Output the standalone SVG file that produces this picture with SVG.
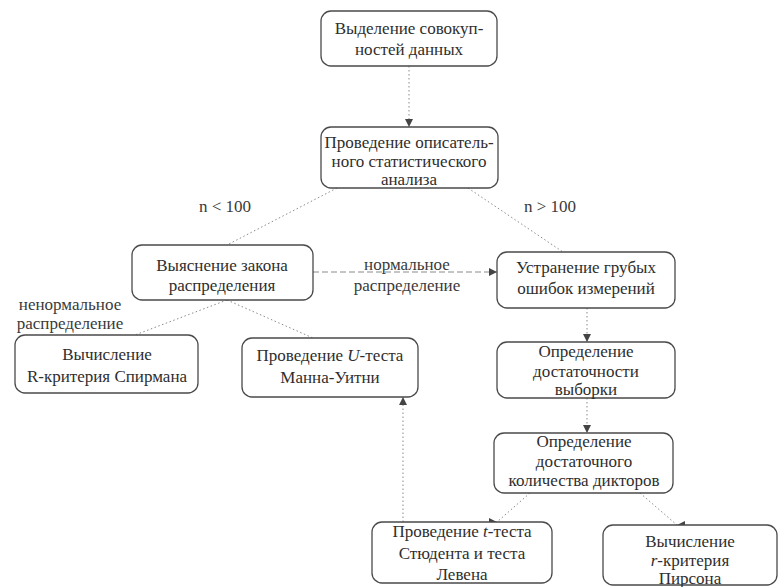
<svg xmlns="http://www.w3.org/2000/svg" width="782" height="587" viewBox="0 0 782 587" font-family="Liberation Serif, DejaVu Serif, Noto Serif, Tinos, Times New Roman, serif" font-size="17">
<style>
  .box { fill: #ffffff; stroke: #4a4a4a; stroke-width: 1.3; }
  .t { fill: #2e2e2e; text-anchor: middle; }
  .lbl { fill: #3a3a3a; text-anchor: middle; }
  .c { fill: none; stroke: #8a8a8a; stroke-width: 1; stroke-dasharray: 1.5 2.5; }
  .h { fill: none; stroke: #8a8a8a; stroke-width: 1; stroke-dasharray: 6 3; }
</style>
<defs>
  <marker id="aDown" markerUnits="userSpaceOnUse" markerWidth="8" markerHeight="8" refX="8" refY="4" orient="90"><path d="M0,0 L8,4 L0,8 z" fill="#444"/></marker>
  <marker id="aUp" markerUnits="userSpaceOnUse" markerWidth="8" markerHeight="8" refX="8" refY="4" orient="-90"><path d="M0,0 L8,4 L0,8 z" fill="#444"/></marker>
  <marker id="aRight" markerUnits="userSpaceOnUse" markerWidth="8" markerHeight="8" refX="8" refY="4" orient="0"><path d="M0,0 L8,4 L0,8 z" fill="#444"/></marker>
  <marker id="aLeft" markerUnits="userSpaceOnUse" markerWidth="8" markerHeight="8" refX="8" refY="4" orient="180"><path d="M0,0 L8,4 L0,8 z" fill="#444"/></marker>
</defs>
<rect width="782" height="587" fill="#ffffff"/>

<g id="connectors">
  <path class="c" d="M409,66 L409,127" marker-end="url(#aDown)"/>
  <path class="c" d="M337,188 L227,245" marker-end="url(#aUp)"/>
  <path class="c" d="M468,188 L563,252" marker-end="url(#aUp)"/>
  <path class="h" d="M313,272 L497,272" marker-end="url(#aRight)"/>
  <path class="c" d="M227,300 L135,335" marker-end="url(#aUp)"/>
  <path class="c" d="M227,300 L313,338" marker-end="url(#aUp)"/>
  <path class="c" d="M587,308 L587,342" marker-end="url(#aDown)"/>
  <path class="c" d="M587,398 L587,433" marker-end="url(#aDown)"/>
  <path class="c" d="M403,522 L403,397" marker-end="url(#aUp)"/>
  <path class="c" d="M530,493 L497,522" marker-end="url(#aRight)"/>
  <path class="c" d="M640,493 L677,525" marker-end="url(#aLeft)"/>
  <text class="lbl" x="225" y="212">n &lt; 100</text>
  <text class="lbl" x="550" y="212">n &gt; 100</text>
  <text class="lbl" x="407" y="270">нормальное</text>
  <text class="lbl" x="407" y="291">распределение</text>
  <text class="lbl" x="70" y="310">ненормальное</text>
  <text class="lbl" x="70" y="329">распределение</text>
</g>

<g id="n1">
  <rect class="box" x="321" y="11" width="176" height="55" rx="10"/>
  <text class="t" x="409" y="34">Выделение совокуп-</text>
  <text class="t" x="409" y="55">ностей данных</text>
</g>

<g id="n2">
  <rect class="box" x="321" y="127" width="177" height="61" rx="10"/>
  <text class="t" x="409" y="148">Проведение описатель-</text>
  <text class="t" x="409" y="167">ного статистического</text>
  <text class="t" x="409" y="185">анализа</text>
</g>

<g id="n3">
  <rect class="box" x="132" y="245" width="181" height="55" rx="10"/>
  <text class="t" x="222" y="271">Выяснение закона</text>
  <text class="t" x="222" y="291">распределения</text>
</g>

<g id="n4">
  <rect class="box" x="497" y="252" width="178" height="56" rx="10"/>
  <text class="t" x="586" y="273">Устранение грубых</text>
  <text class="t" x="586" y="294">ошибок измерений</text>
</g>

<g id="n5">
  <rect class="box" x="15" y="335" width="183" height="58" rx="10"/>
  <text class="t" x="107" y="360">Вычисление</text>
  <text class="t" x="107" y="382">R-критерия Спирмана</text>
</g>

<g id="n6">
  <rect class="box" x="242" y="338" width="176" height="59" rx="10"/>
  <text class="t" x="330" y="361">Проведение <tspan font-style="italic">U</tspan>-теста</text>
  <text class="t" x="330" y="383">Манна-Уитни</text>
</g>

<g id="n7">
  <rect class="box" x="497" y="342" width="178" height="56" rx="10"/>
  <text class="t" x="586" y="357">Определение</text>
  <text class="t" x="586" y="377">достаточности</text>
  <text class="t" x="586" y="395">выборки</text>
</g>

<g id="n8">
  <rect class="box" x="494" y="433" width="179" height="60" rx="10"/>
  <text class="t" x="584" y="447">Определение</text>
  <text class="t" x="584" y="467">достаточного</text>
  <text class="t" x="584" y="486">количества дикторов</text>
</g>

<g id="n9">
  <rect class="box" x="372" y="522" width="180" height="61" rx="10"/>
  <text class="t" x="462" y="537">Проведение <tspan font-style="italic">t</tspan>-теста</text>
  <text class="t" x="462" y="559">Стюдента и теста</text>
  <text class="t" x="462" y="580">Левена</text>
</g>

<g id="n10">
  <rect class="box" x="603" y="525" width="174" height="60" rx="10"/>
  <text class="t" x="690" y="547">Вычисление</text>
  <text class="t" x="690" y="566"><tspan font-style="italic">r</tspan>-критерия</text>
  <text class="t" x="690" y="584">Пирсона</text>
</g>
</svg>
